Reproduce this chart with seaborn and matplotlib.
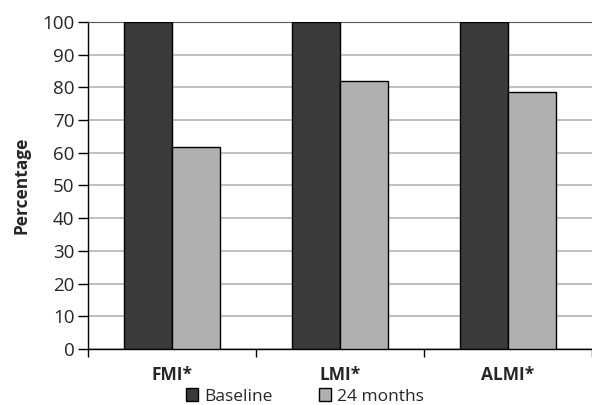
import pandas as pd
import matplotlib
matplotlib.use("Agg")
import matplotlib.pyplot as plt
import seaborn as sb

categories = ["FMI*", "LMI*", "ALMI*"]
baseline = [100, 100, 100]
months24 = [61.8, 82, 78.5]
series_names = ["Baseline", "24 months"]
yticks = list(range(0, 101, 10))

data = pd.DataFrame({
    "Index": categories * 2,
    "Value": baseline + months24,
    "Time": [series_names[0]] * 3 + [series_names[1]] * 3,
})

sb.set_style("white")
plt.rcParams['font.family'] = ['Open Sans', 'DejaVu Sans']

fig = plt.figure(figsize=(5.92, 4.05), dpi=100)
ax = fig.add_axes([0.149, 0.138, 0.851, 0.808])

sb.barplot(data=data, x="Index", y="Value", hue="Time", order=categories,
           hue_order=series_names, palette=["#3a3a3a", "#b0b0b0"],
           width=0.57, gap=0, edgecolor="black", linewidth=1, ax=ax,
           legend=True, zorder=3)

ax.set_ylim(0, 100)
ax.set_xlim(-0.5, 2.5)
ax.set_yticks(yticks)
ax.yaxis.grid(True, color="#b4b4b4", linewidth=1.2, zorder=0)
ax.set_axisbelow(True)
ax.tick_params(axis="y", length=7, width=1, direction="out", labelsize=13.5,
               pad=3, left=True, color="black")
ax.set_xticks([0, 1, 2])
ax.set_xticklabels(categories, fontweight="bold", fontsize=12.5)
ax.tick_params(axis="x", length=0, pad=12)
ax.set_xticks([-0.5, 0.5, 1.5, 2.5], minor=True)
ax.tick_params(axis="x", which="minor", length=6, width=1, color="black",
               direction="out", bottom=True)

ax.spines["right"].set_visible(False)
ax.spines["top"].set_color("#555555")
ax.spines["left"].set_color("black")
ax.spines["bottom"].set_color("black")
ax.spines["left"].set_linewidth(1)
ax.spines["bottom"].set_linewidth(1)

ax.set_xlabel("")
ax.set_ylabel("Percentage", fontweight="bold", fontsize=12.5, labelpad=8)

ax.legend(loc="upper center", bbox_to_anchor=(0.43, -0.12), ncol=2,
          frameon=False, fontsize=12.5, handlelength=0.7, handleheight=0.7,
          handletextpad=0.35, columnspacing=2.7, borderaxespad=0,
          borderpad=0)

fig.savefig("out.png", dpi=100)
